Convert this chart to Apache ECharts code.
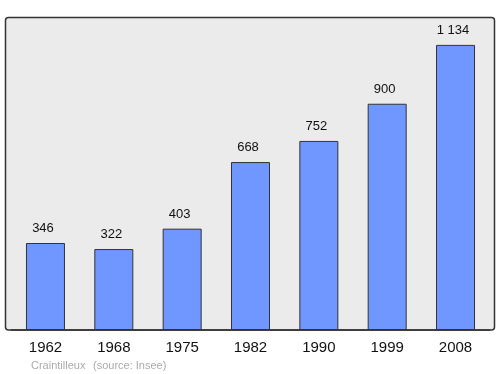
<!DOCTYPE html>
<html><head><meta charset="utf-8">
<script src="https://cdn.jsdelivr.net/npm/echarts@6/dist/echarts.min.js"></script>
<style>html,body{margin:0;padding:0;background:#fff}#c{width:500px;height:374px}</style>
</head><body><div id="c"></div>
<script>
const categories = ['1962','1968','1975','1982','1990','1999','2008'];
const population = [346, 322, 403, 668, 752, 900, 1134];
const valueLabels = ['346','322','403','668','752','900','1 134'];

const FONT = '"Liberation Sans", Arial, sans-serif';
const chart = echarts.init(document.getElementById('c'), null, {renderer:'canvas'});
chart.setOption({
  animation:false,
  graphic:[
    {type:'rect', z:-10, shape:{x:5.5,y:17.5,width:489,height:312.5,r:3},
     style:{fill:'#ebebeb', stroke:'#333', lineWidth:1.5}},
    {type:'text', left:31, top:360, style:{text:'Craintilleux', fill:'#aaa', font:'11px ' + FONT}},
    {type:'text', left:93, top:360, style:{text:'(source: Insee)', fill:'#aaa', font:'11px ' + FONT}}
  ],
  grid:{left:11.3, right:10.3, top:17, bottom:44},
  xAxis:{type:'category', data:categories,
    axisLine:{show:true, lineStyle:{color:'#333', width:1.5}}, axisTick:{show:false},
    axisLabel:{color:'#111', fontSize:15, margin:10, fontFamily:FONT}},
  yAxis:{type:'value', min:0, max:1245, show:false, splitLine:{show:false}},
  series:[{type:'bar', data:population, barWidth:39,
    itemStyle:{color:'#7097ff', borderColor:'#333', borderWidth:1},
    label:{show:true, position:'top', distance:8, offset:[-2.5,0], color:'#111', fontSize:13,
      fontFamily:FONT,
      formatter:p=>valueLabels[p.dataIndex]}}]
});
</script></body></html>
